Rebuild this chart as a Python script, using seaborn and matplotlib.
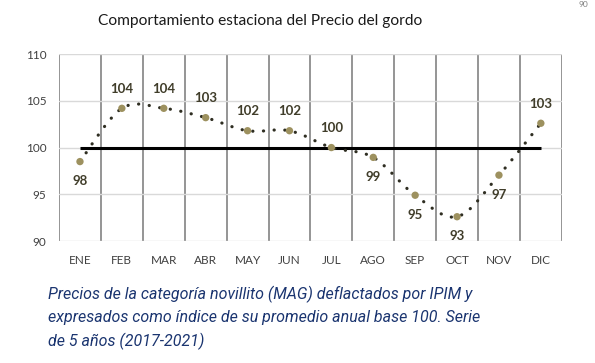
import numpy as np
import pandas as pd
import matplotlib
matplotlib.use("Agg")
import matplotlib.pyplot as plt
from matplotlib.path import Path
from matplotlib.patches import PathPatch
import seaborn as sns

months = ["ENE", "FEB", "MAR", "ABR", "MAY", "JUN", "JUL", "AGO", "SEP", "OCT", "NOV", "DIC"]
index_values = [98.5, 104.2, 104.2, 103.2, 101.8, 101.8, 100.0, 98.95, 94.9, 92.6, 97.05, 102.6]
label_text = ["98", "104", "104", "103", "102", "102", "100", "99", "95", "93", "97", "103"]
label_side = ["below", "above", "above", "above", "above", "above", "above",
              "below", "below", "below", "below", "above"]
base_value = 100
y_ticks = [90, 95, 100, 105, 110]

title = "Comportamiento estaciona del Precio del gordo"
caption = ("Precios de la categoría novillito (MAG) deflactados por IPIM y\n"
           "expresados como índice de su promedio anual base 100. Serie\n"
           "de 5 años (2017-2021)")

df = pd.DataFrame({"mes": months, "x": range(len(months)), "indice": index_values})

sns.set_style("white")
plt.rcParams["font.family"] = ["Lato", "DejaVu Sans"]

fig = plt.figure(figsize=(5.95, 3.63), dpi=100)
ax = fig.add_axes([0.0992, 0.336, 0.845, 0.515])

# smoothed line (excel-style bezier through the points)
xs = df["x"].to_numpy(dtype=float)
ys = df["indice"].to_numpy(dtype=float)
pts = np.column_stack([xs, ys])
verts = [pts[0]]
codes = [Path.MOVETO]
n = len(pts)
for i in range(n - 1):
    p_prev = pts[max(i - 1, 0)]
    p_next2 = pts[min(i + 2, n - 1)]
    c1 = pts[i] + (pts[i + 1] - p_prev) / 6
    c2 = pts[i + 1] - (p_next2 - pts[i]) / 6
    verts += [c1, c2, pts[i + 1]]
    codes += [Path.CURVE4] * 3
curve = PathPatch(Path(verts, codes), facecolor="none", edgecolor="#2f2e22",
                  linewidth=2.3, linestyle=(0, (0.05, 3.3)), capstyle="round", zorder=3)
ax.add_patch(curve)

# base line at 100
ax.plot([xs[0], xs[-1]], [base_value, base_value], color="black", linewidth=2.2, zorder=2,
        solid_capstyle="butt")

sns.scatterplot(data=df, x="x", y="indice", ax=ax, color="#9d915f", s=28,
                edgecolor="none", zorder=4, legend=False)

for xi, yi, txt, side in zip(xs, ys, label_text, label_side):
    off = 14 if side == "above" else -14
    ax.annotate(txt, (xi, yi), xytext=(0, off), textcoords="offset points",
                ha="center", va="center", fontsize=9.5, fontweight="bold", color="#403d2a")

ax.set_xlim(-0.5, len(months) - 0.5)
ax.set_ylim(90, 110)
ax.set_xticks(range(len(months)))
ax.set_xticklabels(months)
ax.set_xticks(np.arange(-0.5, len(months)), minor=True)
ax.set_yticks(y_ticks)
ax.tick_params(axis="both", which="both", length=0, labelsize=8.5, colors="#404040", pad=10)
ax.tick_params(axis="y", pad=9)
ax.grid(False)
ax.grid(True, axis="y", which="major", color="#d9d9d9", linewidth=1.0)
ax.grid(True, axis="x", which="minor", color="#8c8c8c", linewidth=1.3)
ax.set_axisbelow(True)
for s in ax.spines.values():
    s.set_visible(False)
ax.set_xlabel("")
ax.set_ylabel("")

fig.text(0.437, 0.942, title, ha="center", va="center", fontsize=11.2, color="#1a1a1a")
fig.text(0.081, 0.037, caption, ha="left", va="bottom", fontsize=11.5, style="italic",
         color="#1b3570", linespacing=1.55, family=["Roboto", "DejaVu Sans"])
fig.text(0.972, 0.998, "90", ha="left", va="top", fontsize=6, color="#7f7f7f")

fig.savefig("out.png", dpi=100)
